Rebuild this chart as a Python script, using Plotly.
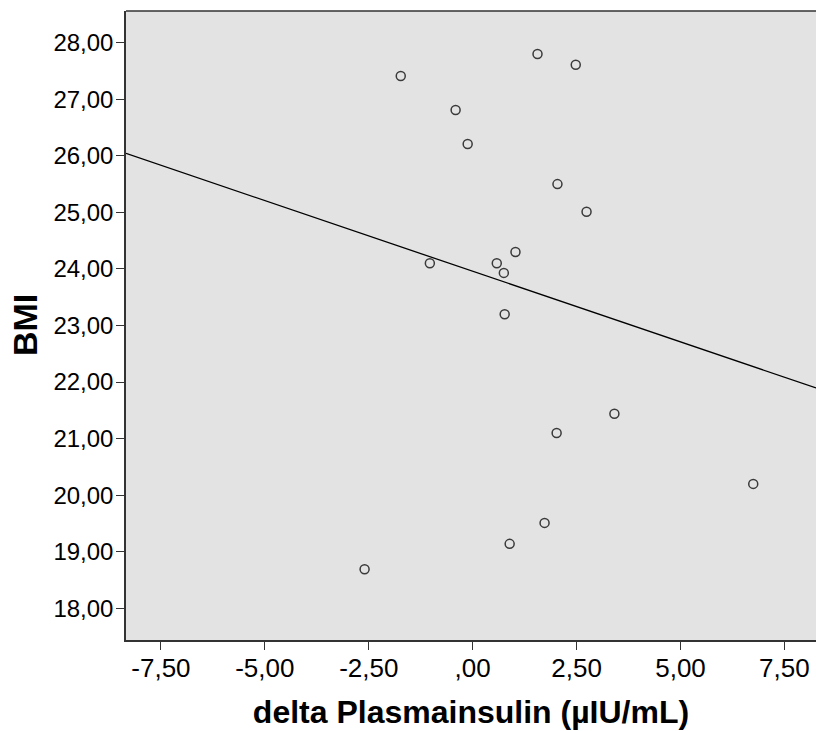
import numpy as np
import plotly.graph_objects as go

# Data
delta_insulin = [-1.73, 1.56, 2.48, -0.41, -0.12, 2.04, 2.74, -1.03, 0.58, 1.03,
                 0.75, 0.77, 3.41, 2.02, 6.75, 1.73, 0.89, -2.60]
bmi = [27.41, 27.80, 27.61, 26.81, 26.21, 25.50, 25.01, 24.10, 24.10, 24.30,
       23.93, 23.20, 21.44, 21.10, 20.20, 19.51, 19.14, 18.69]

x_tickvals = [-7.5, -5.0, -2.5, 0.0, 2.5, 5.0, 7.5]
x_ticktext = ["-7,50", "-5,00", "-2,50", ",00", "2,50", "5,00", "7,50"]
y_tickvals = [18, 19, 20, 21, 22, 23, 24, 25, 26, 27, 28]
y_ticktext = ["18,00", "19,00", "20,00", "21,00", "22,00", "23,00",
              "24,00", "25,00", "26,00", "27,00", "28,00"]

x_range = [-8.34, 8.26]
y_range = [17.44, 28.56]

slope, intercept = np.polyfit(delta_insulin, bmi, 1)
fit_x = np.array(x_range)
fit_y = slope * fit_x + intercept

fig = go.Figure()
fig.add_trace(go.Scatter(x=fit_x, y=fit_y, mode="lines",
                         line=dict(color="black", width=1.3),
                         hoverinfo="skip", showlegend=False))
fig.add_trace(go.Scatter(x=delta_insulin, y=bmi, mode="markers",
                         marker=dict(symbol="circle-open", size=9,
                                     color="#3a3a3a", line=dict(width=1.5)),
                         showlegend=False))

fam = "Liberation Sans, Arial, sans-serif"
xtick_font = dict(family=fam, size=26, color="black")
ytick_font = dict(family=fam, size=24, color="black")
xtitle_font = dict(family=fam, size=32, color="black")
ytitle_font = dict(family=fam, size=34, color="black")

fig.update_layout(
    width=816, height=731,
    margin=dict(l=126, r=0, t=11, b=91),
    paper_bgcolor="white",
    plot_bgcolor="#e3e3e3",
    font=dict(family=fam, color="black"),
    xaxis=dict(range=x_range, tickvals=x_tickvals, ticktext=x_ticktext,
               showgrid=False, zeroline=False, showline=True,
               linecolor="#333333", linewidth=1.5,
               ticks="outside", ticklen=8, tickcolor="#333333", tickwidth=1.3,
               tickfont=xtick_font, ticklabelstandoff=-4,
               title=dict(text="<b>delta Plasmainsulin (µIU/mL)</b>", font=xtitle_font,
                          standoff=19)),
    yaxis=dict(range=y_range, tickvals=y_tickvals, ticktext=y_ticktext,
               showgrid=False, zeroline=False, showline=True,
               linecolor="#333333", linewidth=1.5,
               ticks="outside", ticklen=8, tickcolor="#333333", tickwidth=1.3,
               tickfont=ytick_font, ticklabelstandoff=-2),
    annotations=[dict(text="<b>BMI</b>", xref="paper", yref="paper",
                      x=-0.147, y=0.5, xanchor="center", yanchor="middle",
                      textangle=-90, showarrow=False, font=ytitle_font)],
    shapes=[dict(type="line", xref="paper", yref="paper", x0=0, x1=1, y0=1, y1=1,
                 line=dict(color="#333333", width=1.5))],
)

fig.write_html("out.html", config={"displayModeBar": False},
               post_script="document.body.style.margin='0';document.body.style.overflow='hidden';")
